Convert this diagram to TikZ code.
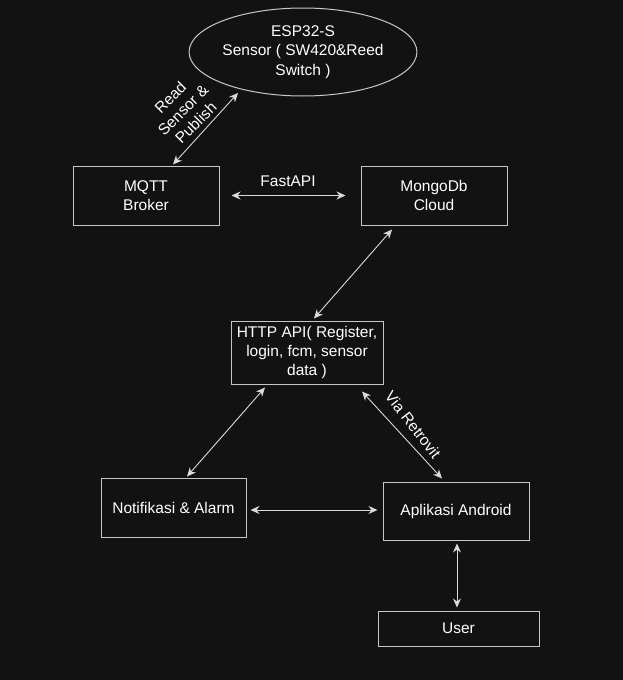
\documentclass[tikz,border=0pt]{standalone}
\usepackage{fontspec}
\setmainfont{Liberation Sans}
\usetikzlibrary{arrows.meta,calc,shapes.geometric}
\definecolor{bg}{HTML}{121212}
\definecolor{edge}{HTML}{C8C8C8}
\definecolor{wire}{HTML}{DADADA}
\tikzset{
  box/.style={draw=edge,line width=1pt,fill=bg,text=white,inner sep=0pt,align=center,
    font=\fontsize{15.5}{19.3}\selectfont},
  conn/.style={draw=wire,line width=0.9pt,{Stealth[length=9pt,width=8pt,inset=3pt]}-{Stealth[length=9pt,width=8pt,inset=3pt]}},
  lbl/.style={text=white,align=center,font=\fontsize{15.5}{18}\selectfont,inner sep=0pt},
}
\begin{document}
\begin{tikzpicture}[x=1pt,y=-1pt]
\fill[bg] (0,0) rectangle (623,680);
\useasboundingbox (0,0) rectangle (623,680);
% nodes
\node[box,ellipse,minimum width=180pt,minimum height=88pt] (esp) at (303,52)
  {ESP32-S\\Sensor ( SW420\&Reed\\Switch )};
\node[box,minimum width=146pt,minimum height=59pt] (mqtt) at (146,195.5) {MQTT\\Broker};
\node[box,minimum width=146pt,minimum height=59pt] (mongo) at (434,195.5) {MongoDb\\Cloud};
\node[box,minimum width=152pt,minimum height=63pt] (http) at (307,352.5)
  {HTTP API( Register,\\login, fcm, sensor\\data )};
\node[box,minimum width=145pt,minimum height=59pt] (notif) at (173.5,507.5) {Notifikasi \& Alarm};
\node[box,minimum width=146pt,minimum height=58pt] (android) at (456,511) {Aplikasi Android};
\node[box,minimum width=161pt,minimum height=35pt] (user) at (458.5,628.5) {User};
% connectors
\draw[conn] ($(esp.center)+(-65,41)$) -- ($(mqtt.north)+(27,-1)$);
\draw[conn] ($(mqtt.east)+(12,0)$) -- ($(mongo.west)+(-15,0)$);
\draw[conn] ($(mongo.south)+(-42,4)$) -- ($(http.north)+(7,-2)$);
\draw[conn] ($(http.south)+(-42,3)$) -- ($(notif.north)+(13.5,-1)$);
\draw[conn] ($(http.south)+(55,7)$) -- ($(android.north)+(-14,-3)$);
\draw[conn] ($(notif.east)+(4,2.5)$) -- ($(android.west)+(-5,-1)$);
\draw[conn] ($(android.south)+(1,3)$) -- ($(user.north)+(-1.5,-3)$);
% labels
\node[lbl] (lfast) at (288,181) {FastAPI};
\node[lbl,rotate=45] (lread) at (183,110) {Read\\Sensor \&\\Publish};
\node[lbl,rotate=-52] (lvia) at (413,425) {Via Retrovit};
\end{tikzpicture}
\end{document}
